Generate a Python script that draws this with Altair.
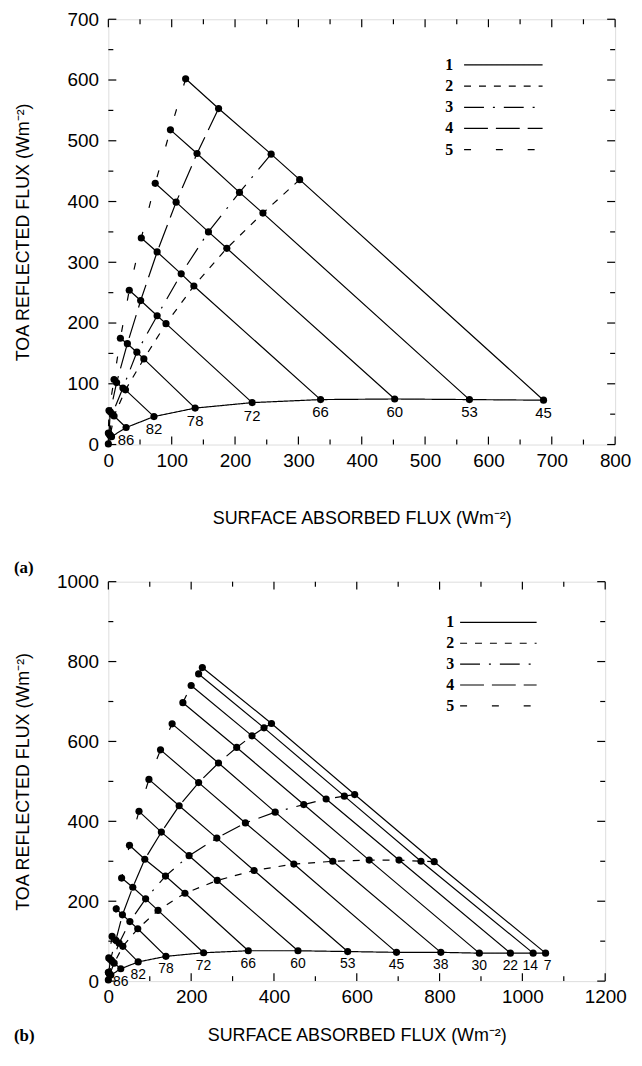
import altair as alt
import pandas as pd

FONT = "Liberation Sans"
SERIF = "Liberation Serif"

# ---------------- Panel (a) ----------------
A_C1_ANGLES = [45, 53, 60, 66, 72, 78, 82, 86, 88, 90]
A_C1_X = [687, 570, 452, 335, 227, 137, 72, 28, 5, 0]
A_C1_Y = [73, 74, 75, 74, 69, 60, 46, 28, 13, 1]
A_LABELS = ["45", "53", "60", "66", "72", "78", "82", "86", "", ""]
A_ANGLES = [45, 53, 60, 66, 72, 78, 82, 86, 88]
A_C2_X = [302, 244, 187, 135, 91, 56, 27, 9, 3]
A_C2_Y = [436, 381, 323, 261, 199, 141, 90, 47, 15]
A_C3_X = [257, 207, 158, 115, 77, 45, 23, 6, 2]
A_C3_Y = [478, 415, 350, 281, 212, 152, 93, 50, 16]
A_C4_X = [174, 140, 107, 77, 51, 30, 13, 3, 1]
A_C4_Y = [553, 479, 399, 317, 237, 166, 102, 54, 18]
A_C5_X = [122, 98, 74, 52, 33, 19, 9, 1, 0]
A_C5_Y = [602, 518, 430, 340, 254, 175, 107, 56, 19]
A_X_MAJOR = [0, 100, 200, 300, 400, 500, 600, 700, 800]
A_X_MINOR = [50, 150, 250, 350, 450, 550, 650, 750]
A_Y_MAJOR = [0, 100, 200, 300, 400, 500, 600, 700]
A_Y_MINOR = [50, 150, 250, 350, 450, 550, 650]

# ---------------- Panel (b) ----------------
B_C1_ANGLES = [7, 14, 22, 30, 38, 45, 53, 60, 66, 72, 78, 82, 86, 88, 90]
B_C1_X = [1056, 1026, 971, 896, 803, 696, 578, 458, 338, 230, 139, 72, 30, 6, 0]
B_C1_Y = [70, 70, 70, 70, 72, 72, 74, 76, 76, 71, 62, 48, 31, 15, 3]
B_LABELS = ["7", "14", "22", "30", "38", "45", "53", "60", "66", "72", "78", "82", "86", "", ""]
B_ANGLES = [7, 14, 22, 30, 38, 45, 53, 60, 66, 72, 78, 82, 86, 88]
B_C2_X = [787, 755, 702, 630, 542, 448, 352, 263, 185, 120, 71, 35, 14, 3]
B_C2_Y = [299, 300, 303, 303, 300, 293, 277, 252, 220, 177, 131, 87, 45, 17]
B_C3_X = [595, 570, 526, 472, 403, 331, 262, 195, 138, 90, 52, 26, 9, 2]
B_C3_Y = [467, 463, 456, 442, 423, 396, 358, 314, 263, 206, 149, 95, 50, 19]
B_C4_X = [394, 376, 347, 310, 266, 218, 171, 128, 88, 59, 34, 18, 5, 1]
B_C4_Y = [645, 634, 614, 585, 546, 497, 439, 373, 305, 235, 166, 102, 54, 21]
B_C5_X = [227, 218, 200, 180, 154, 126, 98, 74, 51, 32, 19, 9, 1, 0]
B_C5_Y = [785, 769, 740, 697, 644, 579, 505, 425, 340, 258, 181, 112, 58, 22]
B_X_MAJOR = [0, 200, 400, 600, 800, 1000, 1200]
B_X_MINOR = [100, 300, 500, 700, 900, 1100]
B_Y_MAJOR = [0, 200, 400, 600, 800, 1000]
B_Y_MINOR = [100, 300, 500, 700, 900]

LEVELS = ["1", "2", "3", "4", "5"]
DASHES = [[1, 0], [7, 8], [20, 9, 2, 9], [24, 8], [7, 25]]

X_TITLE = "SURFACE ABSORBED FLUX (Wm\u207b\u00b2)"
Y_TITLE = "TOA REFLECTED FLUX (Wm\u207b\u00b2)"


def build_df(c1_angles, c1x, c1y, angles, curves):
    rows = []
    for a, x, y in zip(c1_angles, c1x, c1y):
        rows.append(dict(angle=a, level="1", x=x, y=y))
    for lvl, (xs, ys) in zip(LEVELS[1:], curves):
        for a, x, y in zip(angles, xs, ys):
            rows.append(dict(angle=a, level=lvl, x=x, y=y))
    return pd.DataFrame(rows)


def panel(df, lab_df, xdom, ydom, W, H, xmaj, xmin, ymaj, ymin,
          xtitle_y, leg_x, leg_l1, leg_l2, leg_y0, leg_dy, tag, tag_y, lab_size):
    xs = alt.Scale(domain=xdom, nice=False, zero=True)
    ys = alt.Scale(domain=ydom, nice=False, zero=True)
    xaxis = alt.Axis(values=xmaj, ticks=False, tickSize=0, domain=False, grid=False,
                     labelFont=FONT, labelFontSize=19, labelColor="black", labelPadding=7,
                     labelFlush=False, labelOverlap=False, format="d",
                     title=X_TITLE, titleFont=FONT, titleFontSize=18, titleFontWeight="normal",
                     titleColor="black", titleX=W / 2, titleY=xtitle_y,
                     titleBaseline="middle", titleAlign="center")
    yaxis = alt.Axis(values=ymaj, ticks=False, tickSize=0, domain=False, grid=False,
                     labelFont=FONT, labelFontSize=19, labelColor="black", labelPadding=10,
                     labelFlush=False, labelOverlap=False, format="d",
                     title=Y_TITLE, titleFont=FONT, titleFontSize=18, titleFontWeight="normal",
                     titleColor="black", titleX=-85, titleY=H / 2, titleAngle=270,
                     titleBaseline="middle", titleAlign="center")
    X = alt.X("x:Q", scale=xs, axis=xaxis)
    Y = alt.Y("y:Q", scale=ys, axis=yaxis)
    base = alt.Chart(df)
    diag = base.transform_filter("datum.angle < 90").mark_line(
        color="black", strokeWidth=1.2).encode(
        x=X, y=Y, detail="angle:N", order=alt.Order("level:Q"))
    curves = base.mark_line(color="black", strokeWidth=1.2).encode(
        x=X, y=Y,
        strokeDash=alt.StrokeDash("level:N", scale=alt.Scale(domain=LEVELS, range=DASHES), legend=None),
        order=alt.Order("angle:Q"))
    pts = base.mark_circle(color="black", opacity=1, size=52).encode(x=X, y=Y)
    lab_base = alt.Chart(lab_df)
    labs_main = lab_base.transform_filter("datum.label != '14' && datum.label != '7'").mark_text(
        font=FONT, fontSize=lab_size, dy=13, color="black").encode(x=X, y=Y, text="label:N")
    labs_14 = lab_base.transform_filter("datum.label == '14'").mark_text(
        font=FONT, fontSize=lab_size, dy=13, dx=-3, color="black").encode(x=X, y=Y, text="label:N")
    labs_7 = lab_base.transform_filter("datum.label == '7'").mark_text(
        font=FONT, fontSize=lab_size, dy=13, dx=2, color="black").encode(x=X, y=Y, text="label:N")

    layers = [diag, curves, pts, labs_main, labs_14, labs_7]
    # inward ticks on all four sides
    XV = alt.X("v:Q", scale=xs, axis=xaxis)
    YV = alt.Y("v:Q", scale=ys, axis=yaxis)
    for vals, ln in ((xmaj, 8), (xmin, 5)):
        d = alt.Chart(pd.DataFrame({"v": vals}))
        layers.append(d.mark_rule(color="black", strokeWidth=1.2).encode(
            x=XV, y=alt.value(H), y2=alt.value(H - ln)))
        layers.append(d.mark_rule(color="black", strokeWidth=1.2).encode(
            x=XV, y=alt.value(0), y2=alt.value(ln)))
    for vals, ln in ((ymaj, 8), (ymin, 5)):
        d = alt.Chart(pd.DataFrame({"v": vals}))
        layers.append(d.mark_rule(color="black", strokeWidth=1.2).encode(
            y=YV, x=alt.value(0), x2=alt.value(ln)))
        layers.append(d.mark_rule(color="black", strokeWidth=1.2).encode(
            y=YV, x=alt.value(W), x2=alt.value(W - ln)))

    # legend drawn inside the plot
    for i, (lv, dash) in enumerate(zip(LEVELS, DASHES)):
        ly = leg_y0 + i * leg_dy
        dd = alt.Chart(pd.DataFrame({"t": [lv]}))
        layers.append(dd.mark_text(font=SERIF, fontSize=16, fontWeight="bold", color="black",
                                   align="center", baseline="middle").encode(
            x=alt.value(leg_x), y=alt.value(ly), text="t:N"))
        layers.append(dd.mark_rule(color="black", strokeWidth=1.2, strokeDash=dash).encode(
            x=alt.value(leg_l1), x2=alt.value(leg_l2), y=alt.value(ly)))

    tg = alt.Chart(pd.DataFrame({"t": [tag]})).mark_text(
        font=SERIF, fontSize=17, fontWeight="bold", color="black", align="left",
        baseline="middle").encode(x=alt.value(-95), y=alt.value(tag_y), text="t:N")
    layers.append(tg)
    return alt.layer(*layers).properties(width=W, height=H)


dfa = build_df(A_C1_ANGLES, A_C1_X, A_C1_Y, A_ANGLES,
               [(A_C2_X, A_C2_Y), (A_C3_X, A_C3_Y), (A_C4_X, A_C4_Y), (A_C5_X, A_C5_Y)])
laba = pd.DataFrame({"x": A_C1_X, "y": A_C1_Y, "label": A_LABELS})
dfb = build_df(B_C1_ANGLES, B_C1_X, B_C1_Y, B_ANGLES,
               [(B_C2_X, B_C2_Y), (B_C3_X, B_C3_Y), (B_C4_X, B_C4_Y), (B_C5_X, B_C5_Y)])
labb = pd.DataFrame({"x": B_C1_X, "y": B_C1_Y, "label": B_LABELS})

pa = panel(dfa, laba, [0, 800], [0, 700], 510, 428, A_X_MAJOR, A_X_MINOR, A_Y_MAJOR, A_Y_MINOR,
           74, 343, 358, 437, 46, 21.3, "(a)", 552, 15)
pb = panel(dfb, labb, [0, 1200], [0, 1000], 500, 402, B_X_MAJOR, B_X_MINOR, B_Y_MAJOR, B_Y_MINOR,
           55, 344, 354, 431, 41, 21, "(b)", 457, 14)

chart = alt.vconcat(pa, pb, spacing=138, bounds="flush").properties(
    padding={"left": 5, "top": -2, "right": 2, "bottom": 2}
).configure_view(stroke="black", strokeWidth=1.2).configure(background="white")

chart.save("out.html", embed_options={"renderer": "svg", "actions": False})
